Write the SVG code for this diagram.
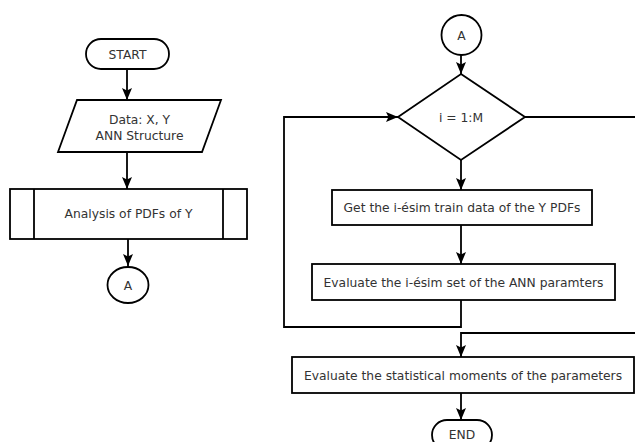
<svg xmlns="http://www.w3.org/2000/svg" width="635" height="442" viewBox="0 0 635 442">
<style>
.s{fill:#fff;stroke:#000;stroke-width:1.8}
.c{fill:none;stroke:#000;stroke-width:1.8}
text{font-family:"DejaVu Sans","Liberation Sans",sans-serif;font-size:12.3px;fill:#333;text-anchor:middle}
</style>
<defs>
<marker id="ah" markerUnits="userSpaceOnUse" viewBox="0 0 12 10" markerWidth="12" markerHeight="10" refX="12" refY="5" orient="auto">
<path d="M0,0 L12,5 L0,10 L2.5,5 z" fill="#000"/>
</marker>
</defs>
<rect width="635" height="442" fill="#fff"/>
<g id="connectors">
<line class="c" x1="127" y1="69" x2="127" y2="100" marker-end="url(#ah)"/>
<line class="c" x1="127" y1="152" x2="127" y2="189" marker-end="url(#ah)"/>
<line class="c" x1="128" y1="239" x2="128" y2="266" marker-end="url(#ah)"/>
<line class="c" x1="461" y1="55" x2="461" y2="74" marker-end="url(#ah)"/>
<line class="c" x1="461" y1="160" x2="461" y2="190" marker-end="url(#ah)"/>
<line class="c" x1="461" y1="225" x2="461" y2="264" marker-end="url(#ah)"/>
<polyline class="c" points="461,300 461,327 284,327 284,117 398,117" marker-end="url(#ah)"/>
<line class="c" x1="525" y1="117" x2="636" y2="117"/>
<polyline class="c" points="636,333 461,333 461,357" marker-end="url(#ah)"/>
<line class="c" x1="461" y1="393" x2="461" y2="420" marker-end="url(#ah)"/>
</g>
<g id="start">
<rect class="s" x="86" y="39" width="83" height="30" rx="15"/>
<text x="127.5" y="58.5">START</text>
</g>
<g id="data">
<polygon class="s" points="77,100 221,100 202,152 58,152"/>
<text x="139.5" y="123.5">Data: X, Y</text>
<text x="139.5" y="139.5">ANN Structure</text>
</g>
<g id="analysis">
<rect class="s" x="10" y="189" width="237" height="50"/>
<line class="c" x1="34" y1="189" x2="34" y2="239"/>
<line class="c" x1="223" y1="189" x2="223" y2="239"/>
<text x="128.5" y="217.5">Analysis of PDFs of Y</text>
</g>
<g id="connA1">
<ellipse class="s" cx="128" cy="285" rx="20.5" ry="18"/>
<text x="128" y="289.5">A</text>
</g>
<g id="connA2">
<circle class="s" cx="461.5" cy="35" r="20"/>
<text x="461.5" y="39.5">A</text>
</g>
<g id="loop">
<polygon class="s" points="461,74 525,117 461,160 398,117"/>
<text x="461" y="121.5">i = 1:M</text>
</g>
<g id="gettrain">
<rect class="s" x="332" y="190" width="260" height="35"/>
<text x="462" y="212">Get the i-ésim train data of the Y PDFs</text>
</g>
<g id="evalset">
<rect class="s" x="312" y="264" width="303" height="36"/>
<text x="463.5" y="286.5">Evaluate the i-ésim set of the ANN paramters</text>
</g>
<g id="evalmoments">
<rect class="s" x="292" y="357" width="342" height="36"/>
<text x="463" y="379.5">Evaluate the statistical moments of the parameters</text>
</g>
<g id="end">
<rect class="s" x="432" y="420" width="60" height="30" rx="15"/>
<text x="462" y="439">END</text>
</g>
</svg>
